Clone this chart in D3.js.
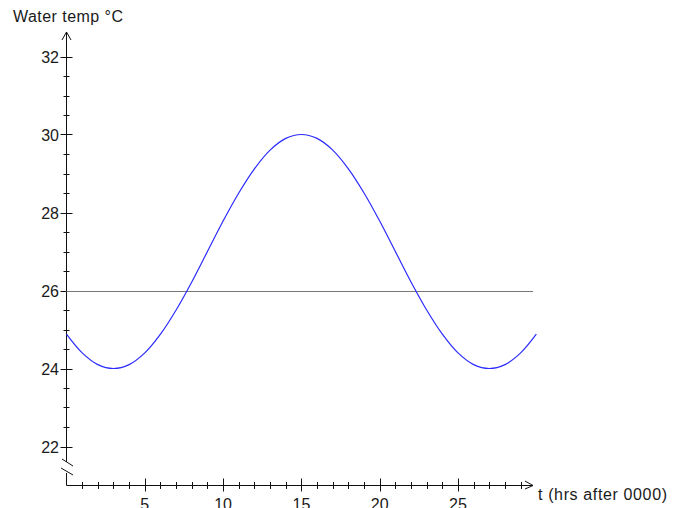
<!doctype html>
<html lang="en">
<head>
  <meta charset="utf-8">
  <style>
    body { margin: 0; background: #fff; }
    text { font-family: "Liberation Sans", Arial, sans-serif; font-size: 16px; fill: #1a1a1a; }
  </style>
</head>
<body>
  <script src="https://d3js.org/d3.v7.min.js"></script>
  <div id="chart"></div>
  <script>
    // hours after 0000 and water temperature
    var hours = d3.range(0, 31);
    var temps = [24.88, 24.40, 24.10, 24.00, 24.10, 24.40, 24.88, 25.50, 26.22, 27.00,
                 27.78, 28.50, 29.12, 29.60, 29.90, 30.00, 29.90, 29.60, 29.12, 28.50,
                 27.78, 27.00, 26.22, 25.50, 24.88, 24.40, 24.10, 24.00, 24.10, 24.40, 24.88];
    var meanTemp = 26;
    var xLabels = [5, 10, 15, 20, 25];
    var yLabels = [22, 24, 26, 28, 30, 32];

    var width = 673, height = 508;
    var svg = d3.select("#chart").append("svg")
                .attr("width", width)
                .attr("height", height);

    var x = d3.scaleLinear().domain([0, 30]).range([66.5, 536.3]);
    var y = d3.scaleLinear().domain([21, 32]).range([485.5, 56.5]);
    var x0 = x(0), y0 = y(21);

    var ax = svg.append("g").attr("stroke", "#111").attr("stroke-width", 1).attr("fill", "none");

    // x axis line + arrow
    ax.append("line").attr("x1", x0).attr("x2", 533).attr("y1", y0).attr("y2", y0);
    ax.append("path").attr("d", "M525,481L533," + y0 + "L525,489");

    // y axis line (with break) + arrow
    ax.append("line").attr("x1", x0).attr("x2", x0).attr("y1", 32).attr("y2", 462);
    ax.append("line").attr("x1", x0).attr("x2", x0).attr("y1", 473).attr("y2", y0);
    ax.append("path").attr("d", "M62,40L" + x0 + ",32L71,40");
    ax.append("line").attr("x1", 62).attr("y1", 459).attr("x2", 73).attr("y2", 466);
    ax.append("line").attr("x1", 61).attr("y1", 468).attr("x2", 73).attr("y2", 475);

    // x ticks
    d3.range(1, 30).forEach(function(t) {
      var major = t % 5 === 0;
      ax.append("line")
        .attr("x1", Math.round(x(t)) + 0.5).attr("x2", Math.round(x(t)) + 0.5)
        .attr("y1", y0 - (major ? 7 : 3.5)).attr("y2", y0 + (major ? 6 : 3.5));
    });
    // y ticks
    d3.range(22, 32.01, 0.5).forEach(function(v) {
      var major = v % 2 === 0;
      ax.append("line")
        .attr("y1", Math.round(y(v)) + 0.5).attr("y2", Math.round(y(v)) + 0.5)
        .attr("x1", x0 - (major ? 6 : 3)).attr("x2", x0 + (major ? 6 : 3));
    });

    svg.selectAll("text.xl").data(xLabels).enter().append("text")
       .attr("class", "xl")
       .attr("x", function(d) { return x(d); })
       .attr("y", 510)
       .attr("text-anchor", "middle")
       .text(function(d) { return d; });

    svg.selectAll("text.yl").data(yLabels).enter().append("text")
       .attr("class", "yl")
       .attr("x", 59)
       .attr("y", function(d) { return y(d) + 6; })
       .attr("text-anchor", "end")
       .text(function(d) { return d; });

    svg.append("text").attr("x", 13).attr("y", 22)
       .attr("textLength", 110).attr("lengthAdjust", "spacing")
       .text("Water temp \u00B0C");
    svg.append("text").attr("x", 538).attr("y", 500)
       .attr("textLength", 129).attr("lengthAdjust", "spacing")
       .text("t (hrs after 0000)");

    // mean line
    svg.append("line")
       .attr("x1", x0).attr("x2", 533)
       .attr("y1", Math.round(y(meanTemp)) + 0.5).attr("y2", Math.round(y(meanTemp)) + 0.5)
       .attr("stroke", "#777").attr("stroke-width", 1);

    // temperature curve
    var line = d3.line()
      .x(function(d, i) { return x(hours[i]); })
      .y(function(d) { return y(d); })
      .curve(d3.curveCatmullRom);
    svg.append("path")
       .datum(temps)
       .attr("d", line)
       .attr("fill", "none")
       .attr("stroke", "#2b2bff")
       .attr("stroke-width", 1.2);
  </script>
</body>
</html>
